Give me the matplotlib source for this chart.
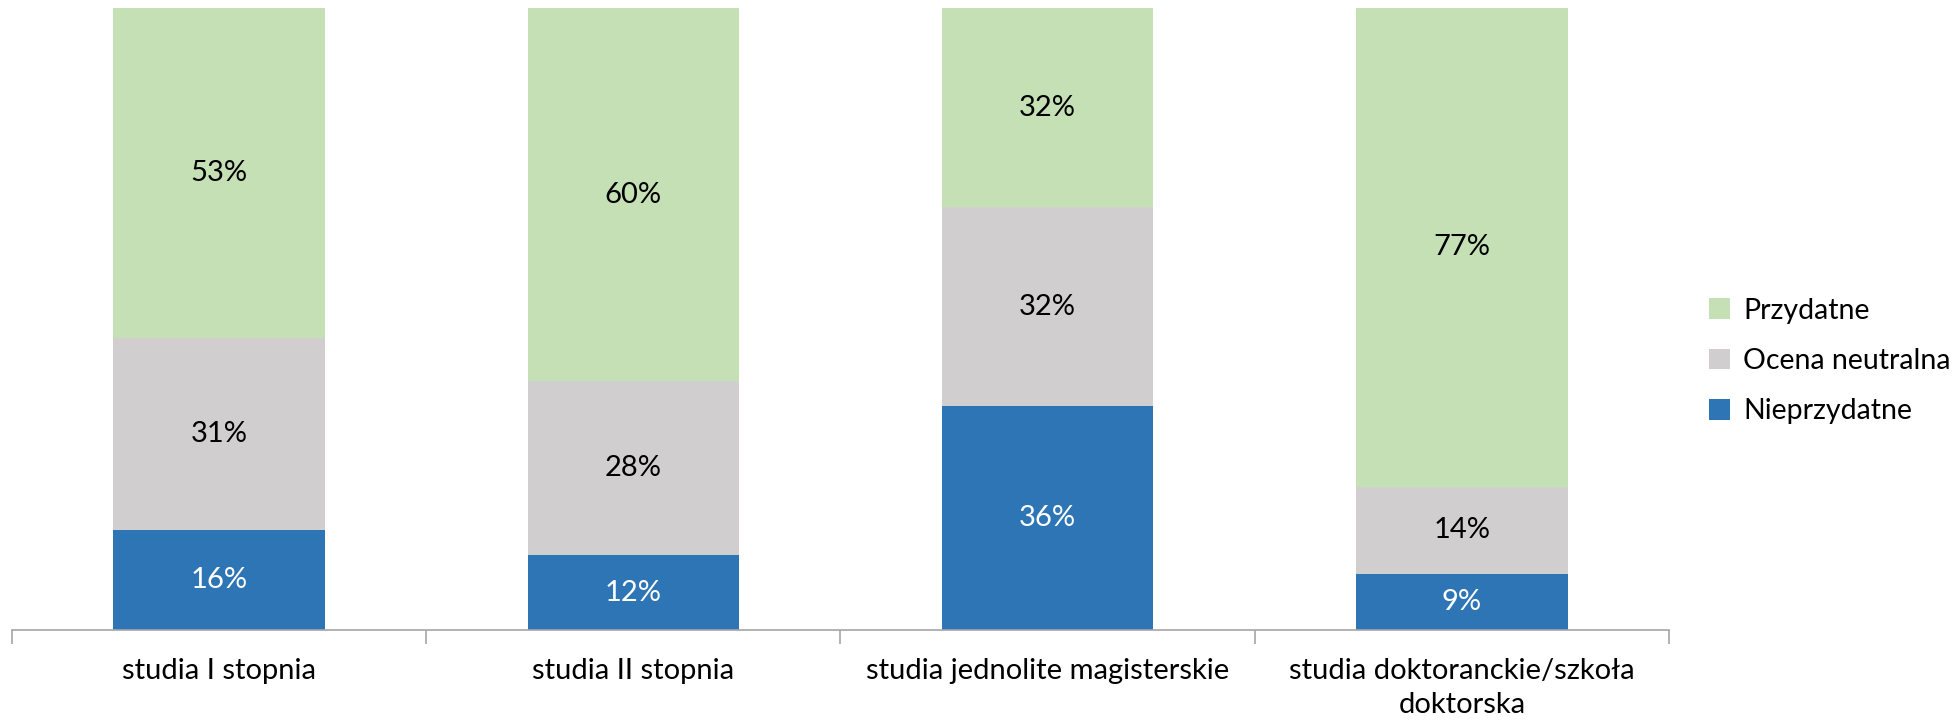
import matplotlib
matplotlib.use("Agg")
import matplotlib.pyplot as plt
import numpy as np

plt.rcParams['font.family'] = ['Lato', 'DejaVu Sans']

categories = ["studia I stopnia", "studia II stopnia", "studia jednolite magisterskie",
              "studia doktoranckie/szkoła\ndoktorska"]
nieprzydatne = [16, 12, 36, 9]
neutralna = [31, 28, 32, 14]
przydatne = [53, 60, 32, 77]

series = [("Nieprzydatne", nieprzydatne, "#2E75B6", "white"),
          ("Ocena neutralna", neutralna, "#D0CECE", "black"),
          ("Przydatne", przydatne, "#C5E0B4", "black")]

W, H = 1956, 721
fig = plt.figure(figsize=(W / 100, H / 100), dpi=100)
ax = fig.add_axes([12 / W, 1 - 630 / H, (1669 - 12) / W, (630 - 8) / H])

x = np.arange(len(categories))
bottom = np.zeros(len(categories))
handles = {}
for name, vals, col, tcol in series:
    vals = np.array(vals, dtype=float)
    b = ax.bar(x, vals, 0.51, bottom=bottom, color=col, label=name, zorder=2)
    handles[name] = b
    for xi, v, bt in zip(x, vals, bottom):
        ax.text(xi, bt + v / 2, f"{int(v)}%", ha="center", va="center",
                fontsize=21, color=tcol, zorder=3)
    bottom += vals

ax.set_xlim(-0.5, len(categories) - 0.5)
ax.set_ylim(0, 100)
ax.set_yticks([])
for s in ["top", "right", "left"]:
    ax.spines[s].set_visible(False)
ax.spines["bottom"].set_color("#A6A6A6")
ax.spines["bottom"].set_linewidth(1.2)

ax.set_xticks(np.arange(-0.5, len(categories), 1.0), minor=False)
ax.set_xticklabels([])
ax.tick_params(axis="x", which="major", length=10, color="#A6A6A6", width=1.2)
ax.set_xticks(x, minor=True)
ax.set_xticklabels(categories, minor=True, fontsize=21, linespacing=1.4)
ax.tick_params(axis="x", which="minor", length=0, pad=20)

order = ["Przydatne", "Ocena neutralna", "Nieprzydatne"]
leg = fig.legend([handles[n] for n in order], order, loc="center left",
                 bbox_to_anchor=(1709 / W, 1 - 361 / H), frameon=False,
                 borderpad=0, borderaxespad=0,
                 fontsize=20.5, handlelength=0.75, handleheight=0.75,
                 handletextpad=0.45, labelspacing=0.85)

fig.savefig("out.png", dpi=100)
